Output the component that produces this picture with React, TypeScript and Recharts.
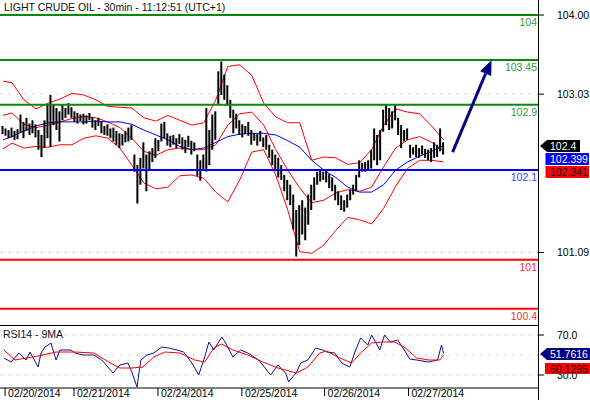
import React from "react";
import {
  ComposedChart,
  Bar,
  Line,
  XAxis,
  YAxis,
  ReferenceLine,
  ReferenceDot,
} from "recharts";

// 30 min bars, high / low
const highs = [
  102.64, 102.61, 102.59, 102.62, 102.58, 102.6, 102.78, 102.69, 102.74, 102.67,
  102.71, 102.66, 102.59, 102.53, 102.71, 102.9, 103.02, 102.91, 102.86, 102.82,
  102.9, 102.86, 102.92, 102.87, 102.82, 102.8, 102.78, 102.79, 102.77, 102.8,
  102.75, 102.71, 102.74, 102.69, 102.64, 102.66, 102.61, 102.62, 102.58, 102.55,
  102.54, 102.58, 102.62, 102.65, 102.29, 102.16, 102.25, 102.44, 102.29, 102.33,
  102.37, 102.49, 102.47, 102.67, 102.69, 102.55, 102.52, 102.53, 102.49, 102.54,
  102.5, 102.47, 102.52, 102.46, 102.44, 102.29, 102.22, 102.29, 102.86, 102.59,
  102.78, 102.82, 103.31, 103.43, 103.27, 103.14, 102.96, 102.84, 102.79, 102.71,
  102.66, 102.64, 102.69, 102.59, 102.55, 102.54, 102.58, 102.5, 102.53, 102.41,
  102.35, 102.29, 102.25, 102.16, 102.04, 101.98, 101.92, 101.8, 101.61, 101.67,
  101.73, 101.64, 101.8, 101.92, 102.01, 102.08, 102.1, 102.08, 102.09, 102.05,
  102.01, 101.92, 101.84, 101.79, 101.73, 101.8, 101.86, 101.92, 102.04, 102.22,
  102.19, 102.2, 102.22, 102.35, 102.61, 102.53, 102.59, 102.84, 102.9, 102.86,
  102.82, 102.9, 102.74, 102.65, 102.59, 102.61, 102.41, 102.38, 102.41, 102.37,
  102.4, 102.36, 102.35, 102.37, 102.44, 102.41, 102.61, 102.44,
];

const lows = [
  102.54, 102.52, 102.49, 102.5, 102.47, 102.48, 102.55, 102.49, 102.58, 102.53,
  102.55, 102.5, 102.35, 102.26, 102.37, 102.49, 102.38, 102.65, 102.59, 102.45,
  102.71, 102.74, 102.78, 102.74, 102.69, 102.67, 102.7, 102.66, 102.67, 102.71,
  102.62, 102.59, 102.64, 102.55, 102.53, 102.52, 102.49, 102.45, 102.41, 102.37,
  102.4, 102.44, 102.45, 102.47, 102.08, 101.69, 101.92, 102.12, 101.84, 102.1,
  102.2, 102.25, 102.33, 102.45, 102.49, 102.4, 102.38, 102.41, 102.37, 102.42,
  102.35, 102.31, 102.38, 102.29, 102.33, 102.03, 101.97, 102.1, 102.08, 102.16,
  102.35, 102.47, 102.9, 103.02, 102.96, 102.89, 102.74, 102.55, 102.61, 102.53,
  102.5, 102.54, 102.52, 102.41, 102.46, 102.4, 102.45, 102.38, 102.35, 102.25,
  102.16, 102.1, 102.01, 101.98, 101.84, 101.73, 101.67, 101.37, 101.04, 101.18,
  101.31, 101.24, 101.43, 101.61, 101.73, 101.92, 101.96, 101.98, 101.95, 101.88,
  101.84, 101.73, 101.67, 101.61, 101.59, 101.64, 101.73, 101.8, 101.84, 102.01,
  102.08, 102.08, 102.1, 102.12, 102.22, 102.16, 102.22, 102.57, 102.65, 102.59,
  102.61, 102.71, 102.53, 102.37, 102.45, 102.47, 102.25, 102.29, 102.26, 102.25,
  102.29, 102.25, 102.22, 102.2, 102.25, 102.26, 102.33, 102.29,
];

// bollinger bands + moving average, one value every 4 bars
const upperBand = [
  103.19, 103.17, 102.96, 102.85, 102.92, 102.97, 103.04, 103.02, 102.96, 102.88,
  102.87, 102.86, 102.74, 102.7, 102.77, 102.71, 102.65, 102.68, 102.96, 103.37,
  103.39, 103.26, 102.92, 102.75, 102.68, 102.68, 102.22, 102.26, 102.25, 102.17,
  102.19, 102.35, 102.65, 102.85, 102.81, 102.79, 102.64, 102.47,
];
const midBand = [
  102.77, 102.8, 102.66, 102.62, 102.65, 102.69, 102.73, 102.76, 102.74, 102.69,
  102.62, 102.49, 102.33, 102.28, 102.35, 102.37, 102.35, 102.35, 102.41, 102.65,
  102.79, 102.81, 102.65, 102.35, 102.1, 101.88, 101.7, 101.73, 101.82, 101.86,
  101.84, 101.89, 102.14, 102.37, 102.47, 102.51, 102.44, 102.34,
];
const lowerBand = [
  102.36, 102.43, 102.37, 102.39, 102.38, 102.41, 102.41, 102.49, 102.52, 102.49,
  102.37, 102.16, 101.94, 101.87, 101.89, 102.03, 102.04, 102.0, 101.83, 101.71,
  101.98, 102.32, 102.35, 102.04, 101.61, 101.1, 101.08, 101.18, 101.36, 101.52,
  101.49, 101.44, 101.63, 101.9, 102.12, 102.22, 102.22, 102.2,
];
const ma50 = [
  102.47, 102.51, 102.58, 102.64, 102.68, 102.69, 102.69, 102.69, 102.7, 102.69,
  102.69, 102.66, 102.59, 102.53, 102.47, 102.39, 102.35, 102.37, 102.44, 102.51,
  102.54, 102.55, 102.55, 102.53, 102.46, 102.38, 102.22, 102.1, 102.01, 101.89,
  101.83, 101.83, 101.92, 102.1, 102.2, 102.27, 102.33, 102.4,
];

// [bar position, value]
const rsi14 = [
  [0.3, 47], [2.7, 43], [5.3, 52], [7.7, 45], [9, 53], [11.7, 38], [12.7, 52],
  [14, 58], [16, 62], [17.7, 45], [19, 55], [22.7, 55], [24, 52], [26.7, 50],
  [30.3, 50], [33, 45], [36.7, 32], [39, 40], [41.7, 42], [43, 33], [44.7, 18],
  [46, 45], [48, 50], [50.3, 52], [53, 58], [55.3, 57], [58, 55], [60.3, 53],
  [63, 42], [65.3, 30], [67.3, 48], [68.7, 63], [70.3, 55], [73, 68], [74.3, 62],
  [76.7, 48], [79.3, 55], [81.7, 52], [85.3, 45], [89.3, 30], [91.7, 40],
  [94.3, 32], [95.3, 23], [98, 33], [99.3, 42], [101.7, 45], [104.3, 57],
  [106.7, 55], [108, 53], [110.7, 52], [113, 42], [115.7, 38], [117.3, 52],
  [119.3, 67], [121.7, 60], [123, 70], [125.7, 55], [127.3, 70], [129.3, 63],
  [131.7, 65], [134.3, 53], [135.7, 46], [138, 45], [142, 43], [145, 45],
  [146.3, 60], [147, 51.76],
];
const rsiMa9 = [
  [0.3, 55], [4, 45], [11.7, 49], [17.7, 53], [24, 53], [30.3, 52], [35.3, 43],
  [39, 37], [43, 37], [46.7, 38], [50.3, 48], [54, 53], [59, 52], [64, 45],
  [67.3, 43], [70.3, 57], [73, 61], [76.7, 55], [81.7, 50], [86.7, 43],
  [91.7, 37], [98, 32], [101.7, 38], [105.7, 52], [108, 54], [111.7, 48],
  [116.3, 42], [119.3, 52], [123, 62], [126.7, 63], [130.7, 63], [134.3, 57],
  [138, 47], [142, 45], [145.7, 45], [147, 50.13],
];

const dateTicks = [0.7, 23.7, 51.7, 79.7, 107.3, 135.3];
const dateLabels = [
  "02/20/2014",
  "02/21/2014",
  "02/24/2014",
  "02/25/2014",
  "02/26/2014",
  "02/27/2014",
];

const priceTicks = [104, 103.03, 101.09];
const resistances = [104, 103.45, 102.9];
const pivots = [102.1];
const supports = [101, 100.4];
const rsiTicks = [70, 30];
const rsiGrid = [70, 50, 30];

const lastPrice = "102.4";
const lastMa = "102.399";
const lastMid = "102.341";
const lastRsi = "51.7616";
const lastRsiMa = "50.1295";

const SLOTS = 179;
const X_DOMAIN = [-1, 178.5];
const PRICE_DOMAIN = [100.189, 104.184];
const FONT = "'Liberation Sans', Arial, sans-serif";

const rows = Array.from({ length: SLOTS }, (_, i) => ({
  i,
  hl: i < highs.length ? [lows[i], highs[i]] : null,
}));

const bandData = upperBand.map((u, k) => ({
  x: Math.max(0, k * 4 - 1),
  u,
  m: midBand[k],
  l: lowerBand[k],
  b: ma50[k],
}));

const rsiData = rsi14.map(([x, v]) => ({ x, v }));
const rsiMaData = rsiMa9.map(([x, v]) => ({ x, v }));

const HLBar = (props: any) => {
  const { x, y, width, height } = props;
  if (y == null || height == null || isNaN(y)) return null;
  const top = height < 0 ? y + height : y;
  return (
    <rect
      x={x + width / 2 - 1}
      y={top}
      width={2}
      height={Math.max(Math.abs(height), 1)}
      fill="#000"
    />
  );
};

const levelLabel = (text: string, color: string) => (props: any) => {
  const vb = props.viewBox;
  return (
    <text
      x={vb.x + vb.width - 1}
      y={vb.y + 11}
      textAnchor="end"
      fontSize={10.5}
      fill={color}
    >
      {text}
    </text>
  );
};

const DateTick = (props: any) => {
  const { x, y, payload } = props;
  const idx = dateTicks.indexOf(payload.value);
  return (
    <text x={x + 3} y={y + 1} fontSize={10.5} fill="#000">
      {dateLabels[idx]}
    </text>
  );
};

const ArrowHead = (props: any) => (
  <polygon
    points="0,0 -15,-6 -15,6"
    transform={`translate(${props.cx},${props.cy}) rotate(-67)`}
    fill="#000080"
  />
);

const levelLine = (v: number, stroke: string, text: string) => (
  <ReferenceLine
    key={`lvl-${v}`}
    y={v}
    stroke={stroke}
    strokeWidth={2}
    label={levelLabel(String(v), text)}
  />
);

const App = () => {
  return (
    <div
      style={{
        position: "absolute",
        left: 0,
        top: 0,
        width: 590,
        height: 400,
        background: "#fff",
        fontFamily: FONT,
      }}
    >
      {/* bands and moving average, under the bars */}
      <div style={{ position: "absolute", left: 0, top: 0 }}>
        <ComposedChart
          width={590}
          height={326}
          data={bandData}
          margin={{ top: 0, right: 52, bottom: 0, left: 0 }}
        >
          <XAxis dataKey="x" type="number" domain={X_DOMAIN} allowDataOverflow hide />
          <YAxis type="number" domain={PRICE_DOMAIN} allowDataOverflow hide />
          <Line dataKey="u" stroke="#ff0000" strokeWidth={1} dot={false} isAnimationActive={false} />
          <Line dataKey="m" stroke="#ff0000" strokeWidth={1} dot={false} isAnimationActive={false} />
          <Line dataKey="l" stroke="#ff0000" strokeWidth={1} dot={false} isAnimationActive={false} />
          <Line dataKey="b" stroke="#0000ff" strokeWidth={1} dot={false} isAnimationActive={false} />
        </ComposedChart>
      </div>

      {/* price bars, levels, axis */}
      <div style={{ position: "absolute", left: 0, top: 0 }}>
        <ComposedChart
          width={590}
          height={326}
          data={rows}
          margin={{ top: 0, right: 0, bottom: 0, left: 0 }}
        >
          <XAxis dataKey="i" type="category" hide padding={{ left: 1.5, right: 0 }} />
          <YAxis
            orientation="right"
            type="number"
            width={52}
            domain={PRICE_DOMAIN}
            allowDataOverflow
            ticks={priceTicks}
            tickFormatter={(v: number) => v.toFixed(2)}
            tick={{ fontSize: 10.5, fill: "#000" }}
            tickSize={6}
            tickMargin={13}
            tickLine={{ stroke: "#000" }}
            axisLine={false}
          />
          {priceTicks.slice(1).map((v) => (
            <ReferenceLine
              key={`g-${v}`}
              y={v}
              stroke="#9a9a9a"
              strokeDasharray="1 7"
            />
          ))}
          {resistances.map((v) => levelLine(v, "#088a08", "#2ea02e"))}
          {pivots.map((v) => levelLine(v, "#0000ff", "#3a3aff"))}
          {supports.map((v) => levelLine(v, "#ff0000", "#ff2a2a"))}
          <Bar dataKey="hl" barSize={2} shape={HLBar} isAnimationActive={false} />
          <ReferenceLine
            segment={[
              { x: 150, y: 102.32 },
              { x: 161, y: 103.28 },
            ]}
            stroke="#000080"
            strokeWidth={3}
          />
          <ReferenceDot x={163} y={103.45} r={6} shape={ArrowHead} />
        </ComposedChart>
      </div>

      {/* RSI panel */}
      <div style={{ position: "absolute", left: 0, top: 326 }}>
        <ComposedChart
          width={590}
          height={74}
          margin={{ top: 0, right: 0, bottom: 0, left: 0 }}
        >
          <XAxis
            dataKey="x"
            type="number"
            domain={X_DOMAIN}
            allowDataOverflow
            ticks={dateTicks}
            interval={0}
            tick={<DateTick />}
            tickSize={8}
            tickMargin={0}
            tickLine={{ stroke: "#000" }}
            axisLine={{ stroke: "#000" }}
            height={12}
          />
          <YAxis
            orientation="right"
            type="number"
            width={52}
            domain={[17, 79]}
            allowDataOverflow
            ticks={rsiTicks}
            tickFormatter={(v: number) => v.toFixed(1)}
            tick={{ fontSize: 10.5, fill: "#000" }}
            tickSize={6}
            tickMargin={13}
            tickLine={{ stroke: "#000" }}
            axisLine={false}
          />
          {rsiGrid.map((v) => (
            <ReferenceLine key={`r-${v}`} y={v} stroke="#9a9a9a" strokeDasharray="1 7" />
          ))}
          <Line data={rsiData} dataKey="v" stroke="#10108a" strokeWidth={1} dot={false} isAnimationActive={false} />
          <Line data={rsiMaData} dataKey="v" stroke="#ff0000" strokeWidth={1} dot={false} isAnimationActive={false} />
        </ComposedChart>
      </div>

      <div style={{ position: "absolute", left: 538, top: 0, width: 1, height: 400, background: "#000" }} />
      <div style={{ position: "absolute", left: 0, top: 325, width: 538, height: 1, background: "#000" }} />

      <svg
        width={590}
        height={400}
        style={{ position: "absolute", left: 0, top: 0, pointerEvents: "none" }}
        fontFamily={FONT}
        fontSize={10.5}
      >
        <text x={4} y={11} fill="#111">
          LIGHT CRUDE OIL - 30min - 11:12:51 (UTC+1)
        </text>
        <text x={3} y={338} fill="#111">
          RSI14 - 9MA
        </text>

        <path d="M540,146 L547,140 L580,140 L580,152 L547,152 Z" fill="#000" />
        <text x={550} y={150} fill="#fff">{lastPrice}</text>
        <rect x={545.5} y={153} width={43.5} height={12} fill="#0000ff" />
        <text x={550} y={163} fill="#fff">{lastMa}</text>
        <rect x={545.5} y={166} width={43.5} height={12} fill="#ff0000" />
        <text x={550} y={176} fill="#000">{lastMid}</text>

        <path d="M540,354 L547,348 L590,348 L590,360 L547,360 Z" fill="#000080" />
        <text x={550} y={358} fill="#fff">{lastRsi}</text>
        <rect x={545} y={363} width={45} height={11} fill="#ff0000" />
        <text x={550} y={372.5} fill="#000">{lastRsiMa}</text>
      </svg>
    </div>
  );
};

export default App;
